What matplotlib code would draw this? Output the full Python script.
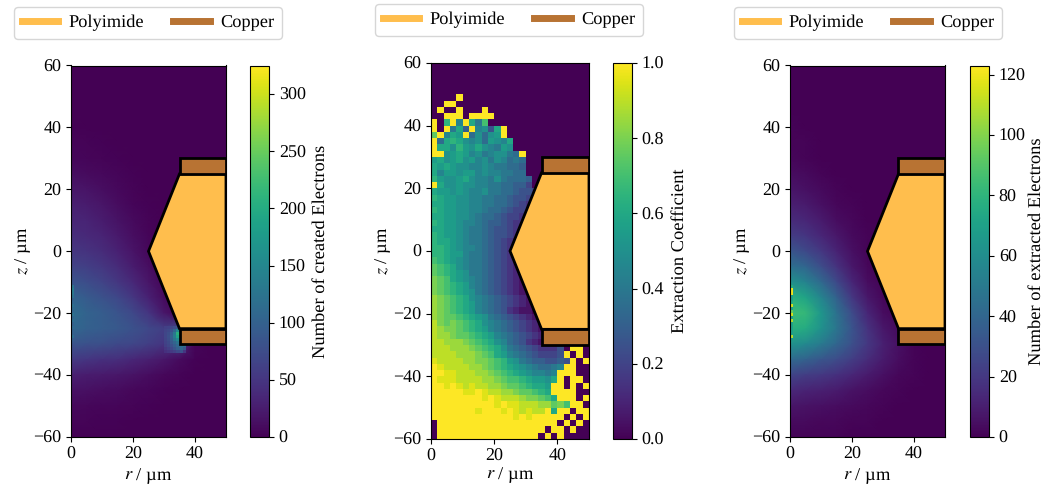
import numpy as np
import matplotlib
matplotlib.use("Agg")
import matplotlib.pyplot as plt
from matplotlib.patches import Polygon
from matplotlib.lines import Line2D

plt.rcParams['font.family'] = ['Liberation Serif', 'DejaVu Serif']
plt.rcParams['mathtext.fontset'] = 'stix'
plt.rcParams['font.size'] = 13.3
plt.rcParams['xtick.labelsize'] = 13
plt.rcParams['ytick.labelsize'] = 13
plt.rcParams['text.hinting'] = 'none'

W, H = 1045, 486

# ---- data -------------------------------------------------------------
r_nodes = [0, 5, 10, 15, 20, 25, 30, 35, 40, 45, 50]
z_nodes = [60, 55, 50, 45, 40, 35, 30, 25, 20, 15, 10, 5, 0, -5, -10, -15, -20,
           -25, -30, -35, -40, -45, -50, -55, -60]

created = [
    [0, 0, 0, 0, 0, 0, 0, 0, 0, 0, 0],
    [0, 0, 0, 0, 0, 0, 0, 0, 0, 0, 0],
    [1, 0, 0, 0, 0, 0, 0, 0, 0, 0, 0],
    [1, 1, 0, 0, 0, 0, 0, 0, 0, 0, 0],
    [2, 1, 1, 0, 0, 0, 0, 0, 0, 0, 0],
    [4, 3, 2, 1, 0, 0, 0, 0, 0, 0, 0],
    [6, 5, 3, 2, 1, 0, 0, 0, 0, 0, 0],
    [12, 10, 7, 4, 2, 1, 0, 0, 0, 0, 0],
    [20, 17, 12, 7, 3, 1, 0, 0, 0, 0, 0],
    [28, 25, 18, 11, 5, 2, 0, 0, 0, 0, 0],
    [35, 32, 25, 16, 8, 3, 1, 0, 0, 0, 0],
    [42, 38, 32, 22, 12, 5, 2, 0, 0, 0, 0],
    [52, 47, 40, 30, 17, 6, 2, 0, 0, 0, 0],
    [65, 60, 52, 40, 25, 12, 2, 0, 0, 0, 0],
    [85, 75, 65, 52, 36, 18, 5, 0, 0, 0, 0],
    [105, 92, 82, 70, 52, 30, 10, 2, 0, 0, 0],
    [115, 102, 95, 85, 70, 50, 20, 5, 0, 0, 0],
    [108, 100, 95, 90, 80, 70, 60, 70, 5, 0, 0],
    [85, 80, 78, 72, 68, 60, 50, 50, 5, 0, 0],
    [55, 50, 45, 42, 35, 28, 20, 10, 2, 0, 0],
    [28, 25, 22, 20, 16, 11, 6, 3, 1, 0, 0],
    [15, 13, 11, 9, 6, 4, 2, 1, 0, 0, 0],
    [7, 6, 5, 4, 3, 2, 1, 0, 0, 0, 0],
    [3, 3, 2, 2, 1, 1, 0, 0, 0, 0, 0],
    [1, 1, 1, 1, 0, 0, 0, 0, 0, 0, 0],
]

extracted = [
    [0, 0, 0, 0, 0, 0, 0, 0, 0, 0, 0],
    [0, 0, 0, 0, 0, 0, 0, 0, 0, 0, 0],
    [0, 0, 0, 0, 0, 0, 0, 0, 0, 0, 0],
    [0, 0, 0, 0, 0, 0, 0, 0, 0, 0, 0],
    [1, 0, 0, 0, 0, 0, 0, 0, 0, 0, 0],
    [1, 1, 0, 0, 0, 0, 0, 0, 0, 0, 0],
    [2, 1, 0, 0, 0, 0, 0, 0, 0, 0, 0],
    [4, 3, 1, 0, 0, 0, 0, 0, 0, 0, 0],
    [7, 5, 3, 1, 0, 0, 0, 0, 0, 0, 0],
    [11, 9, 5, 2, 1, 0, 0, 0, 0, 0, 0],
    [15, 13, 9, 4, 2, 0, 0, 0, 0, 0, 0],
    [22, 19, 13, 8, 3, 1, 0, 0, 0, 0, 0],
    [33, 27, 20, 12, 5, 1, 0, 0, 0, 0, 0],
    [45, 40, 29, 18, 8, 2, 0, 0, 0, 0, 0],
    [62, 55, 42, 27, 13, 4, 1, 0, 0, 0, 0],
    [78, 72, 56, 38, 20, 8, 2, 0, 0, 0, 0],
    [84, 82, 65, 46, 28, 13, 4, 1, 0, 0, 0],
    [78, 75, 62, 48, 32, 18, 8, 3, 0, 0, 0],
    [62, 58, 50, 40, 30, 20, 11, 5, 1, 0, 0],
    [42, 38, 33, 28, 22, 15, 9, 4, 1, 0, 0],
    [25, 22, 20, 17, 13, 9, 5, 2, 1, 0, 0],
    [14, 12, 11, 9, 6, 4, 2, 1, 0, 0, 0],
    [7, 6, 5, 4, 3, 2, 1, 0, 0, 0, 0],
    [3, 3, 2, 2, 1, 1, 0, 0, 0, 0, 0],
    [1, 1, 1, 1, 0, 0, 0, 0, 0, 0, 0],
]

# hot spot of created electrons at the copper corner (1 um cells)
hot_r = [30, 31, 32, 33, 34, 35, 36, 37]
hot_z = [-24, -25, -26, -27, -28, -29, -30, -31, -32, -33]
hot_v = [[62, 64, 68, 75, 85, 100, 100],
         [65, 70, 80, 105, 150, 320, 320],
         [68, 75, 95, 130, 205, 240, 240],
         [68, 78, 100, 135, 190, 200, 200],
         [66, 75, 95, 125, 150, 160, 160],
         [64, 72, 90, 105, 125, 135, 135],
         [60, 68, 80, 95, 110, 115, 115],
         [52, 60, 70, 85, 100, 110, 90],
         [45, 50, 55, 62, 72, 80, 50]]

# extraction coefficient, 2 um cells from r = 0, rows from z = 60 down;
# one base-21 digit per cell in steps of 0.05 (k = 1.0), absent cells = 0
extraction_rows = [
    "", "", "", "", "",            # z 60 .. 50
    "0000k",                       # 48
    "00kk",                        # 46
    "0k00k000k",                   # 44
    "00kkk0kkkk",                  # 42
    "k0dk9kc8e",                   # 40
    "k0k8c6k9a5ck",                # 38
    "fk9cbk7a7abk",                # 36
    "k7cdca9a7ba9c",               # 34
    "kccadbaca98ba0",              # 32
    "kkabcb9a89aa87k",             # 30
    "bcabcab9a8a9787",             # 28
    "cbcbaa99a988776",             # 26
    "c9bbabb9a998877",             # 24
    "dbaabca998a87776",            # 22
    "kcaabaa998877664",            # 20
    "cbbaba99a88776554",           # 18
    "dcbbaa998877655432",          # 16
    "ccbbaa998877654332",          # 14
    "dcbbaa998776544322",          # 12
    "ccbbaa987765443221",          # 10
    "dcbba9987665433211",          # 8
    "ccbba9887655432211",          # 6
    "dcbba9887655432110",          # 4
    "dccba9887654322100",          # 2
    "ddcba9987654321100",          # 0
    "ddcbb9887654321100",          # -2
    "edcba9887654321100",          # -4
    "fedca9887654321100",          # -6
    "fedcba887654321100",          # -8
    "gfecba987654321100",          # -10
    "gfedcb987654321100",          # -12
    "gfedcba87654321100",          # -14
    "hgfedca98765432100",          # -16
    "hgfedcb98765432110",          # -18
    "hgfedcb98765321100",          # -20
    "hgffedcba876543211000",       # -22
    "igfgfedca987654321000",       # -24
    "ihggfedcb9876543211",         # -26
    "ihhgffedcb98765432110",       # -28
    "iihhhgfedca97653211230",      # -30
    "iiihhhgfedca8765433350kk",    # -32
    "iiiihhhgfecb987654445k0k0",   # -34
    "jiiiihhggfedba87665565k0k",   # -36
    "kjiiiihhgfedcba987789kk00",   # -38
    "kkjjiiihhgfedcba9989kkk0",    # -40
    "kjjjiiiihhgfeedcbback0kk0",   # -42
    "kkjkjijiihhgffedccbkk0k0k",   # -44
    "kkkkkjjkjiihhgffedckkkk00",   # -46
    "kkkkkkkkjkjiiihggfeckkk0k",   # -48
    "kkkkkkkkkkjkjjiiihhfgekk0",   # -50
    "kkkkkkkjkkkjkjijiikckk0kk",   # -52
    "kkkkkkkkkkkkkjkjkkkkk0k0k",   # -54
    "0kkkkkkkkkkkkkkkkkkk0k0k0",   # -56
    "0kkkkkkkkkkkkkkkkk0kk0k00",   # -58
    "0kkkkkkkkkkkkkkkk0k0k0000",   # -60
]

# cells next to the axis (1 um wide), from z = -11 downward
axis_z = [-11, -12, -13, -14, -15, -16, -17, -18, -19, -20, -21, -22, -23, -24, -25, -26, -27, -28]
axis_created = [125, 135, 130, 120, 100, 105, 120, 110, 105, 125, 105, 115, 100, 110, 100, 100, 115, 95]
axis_extracted = [75, 120, 120, 70, 70, 75, 115, 70, 95, 115, 70, 110, 70, 70, 70, 70, 110, 65]

polyimide_shape = [(25, 0), (35, 25), (50, 25), (50, -25), (35, -25)]
copper_top = [(35, 25), (35, 30), (50, 30), (50, 25)]
copper_bottom = [(35, -25), (35, -30), (50, -30), (50, -25)]

labels = ["Number of created Electrons", "Extraction Coefficient", "Number of extracted Electrons"]
vmax = [325, 1.0, 123]
cb_ticks = [[0, 50, 100, 150, 200, 250, 300],
            [0, 0.2, 0.4, 0.6, 0.8, 1.0],
            [0, 20, 40, 60, 80, 100, 120]]

# pixel layouts: axes left, right, top, bottom; colorbar left, right; legend centre y, x
layouts = [(71, 226, 65.5, 437, 250, 269, 23, 148),
           (431, 589, 63, 439, 613, 632, 20, 509),
           (790, 945, 65.5, 437, 970, 989, 23, 868)]

POLY = '#FFBE4D'
COPPER = '#B87333'


def add_axes(l, r, t, b):
    return fig.add_axes([l / W, 1 - b / H, (r - l) / W, (b - t) / H])


fig = plt.figure(figsize=(W / 100, H / 100), dpi=100)

for i, (l, r, t, b, cl, cr, ly, lx) in enumerate(layouts):
    ax = add_axes(l, r, t, b)
    if i == 1:
        rows = [row.ljust(25, '0')[:25] for row in extraction_rows]
        grid = np.array([[int(c, 21) / 20 for c in row] for row in rows])
        r_edges = np.arange(0, 51, 2)
        z_edges = 60 - 2 * np.arange(len(rows) + 1)
        ax.pcolormesh(r_edges, z_edges, grid, cmap='viridis', vmin=0, vmax=1)
    else:
        data = created if i == 0 else extracted
        ax.pcolormesh(np.array(r_nodes), np.array(z_nodes), np.array(data, float),
                      cmap='viridis', vmin=0, vmax=vmax[i], shading='gouraud')
        if i == 0:
            ax.pcolormesh(hot_r, hot_z, np.array(hot_v, float), cmap='viridis',
                          vmin=0, vmax=vmax[i])
        axis_v = axis_created if i == 0 else axis_extracted
        ze = np.array(axis_z + [axis_z[-1] - 1])
        ax.pcolormesh([0, 1], ze, np.array(axis_v, float)[:, None], cmap='viridis',
                      vmin=0, vmax=vmax[i])
    ax.add_patch(Polygon(polyimide_shape, closed=True, fc=POLY, ec='k', lw=2, zorder=3))
    ax.add_patch(Polygon(copper_top, closed=True, fc=COPPER, ec='k', lw=2, zorder=3))
    ax.add_patch(Polygon(copper_bottom, closed=True, fc=COPPER, ec='k', lw=2, zorder=3))
    ax.set_xlim(0, 50)
    ax.set_ylim(-60, 60)
    ax.set_xticks([0, 20, 40])
    ax.set_yticks([-60, -40, -20, 0, 20, 40, 60])
    ax.set_xlabel(r"$r$ / µm", labelpad=0 if i == 1 else 2)
    ax.set_ylabel(r"$z$ / µm", labelpad=0)

    cax = add_axes(cl, cr, t, b)
    sm = plt.cm.ScalarMappable(norm=plt.Normalize(0, vmax[i]), cmap='viridis')
    cb = fig.colorbar(sm, cax=cax, ticks=cb_ticks[i])
    if i == 1:
        cb.ax.set_yticklabels(["0.0", "0.2", "0.4", "0.6", "0.8", "1.0"])
    cb.set_label(labels[i], labelpad=2 if i == 2 else 5)

    handles = [Line2D([], [], color=POLY, lw=5), Line2D([], [], color=COPPER, lw=5)]
    fig.legend(handles, ["Polyimide", "Copper"], ncol=2, loc='center',
               bbox_to_anchor=(lx / W, 1 - ly / H), fontsize=13.2,
               columnspacing=1.6, handletextpad=0.55)

fig.savefig("out.png", dpi=100)
